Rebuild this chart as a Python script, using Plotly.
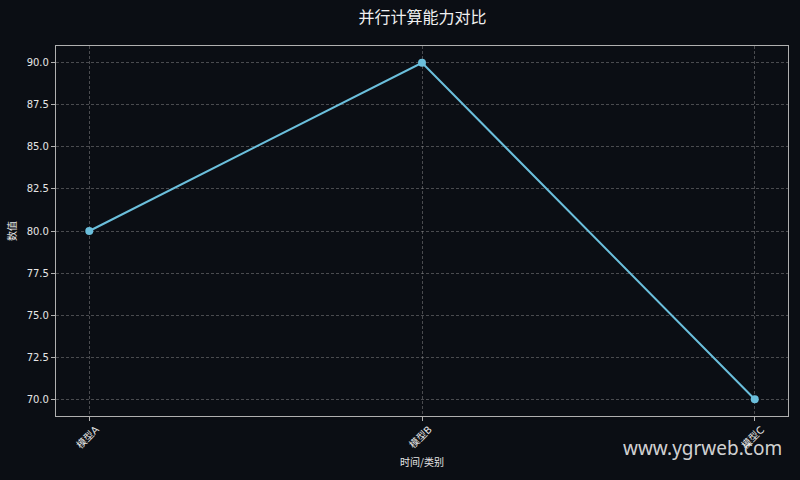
import plotly.graph_objects as go

categories = ["模型A", "模型B", "模型C"]
values = [80, 90, 70]
y_ticks = [70.0, 72.5, 75.0, 77.5, 80.0, 82.5, 85.0, 87.5, 90.0]
y_tick_labels = [f"{v:.1f}" for v in y_ticks]

BG = "#0b0e14"
LINE = "#6bbfdc"
FONT = "Noto Sans CJK SC, DejaVu Sans, sans-serif"
TICKFONT = "DejaVu Sans, Noto Sans CJK SC, sans-serif"
TXT = "#e6e6e6"

xpos = list(range(len(categories)))

fig = go.Figure()
fig.add_trace(go.Scatter(
    x=xpos, y=values, mode="lines+markers",
    line=dict(color=LINE, width=2), marker=dict(color=LINE, size=8),
    showlegend=False,
))

axis_common = dict(
    showline=True, linecolor="#b0b0b0", linewidth=1.2, mirror=True,
    showgrid=True, gridcolor="rgba(150,150,150,0.45)", griddash="3px,2px", gridwidth=0.8,
    ticks="outside", ticklen=4, tickcolor="#b0b0b0", zeroline=False,
    tickfont=dict(family=TICKFONT, size=10, color=TXT),
)

fig.update_layout(
    width=800, height=480,
    paper_bgcolor=BG, plot_bgcolor=BG,
    margin=dict(l=56, r=12, t=46, b=64),
    title=dict(text="并行计算能力对比", x=0.528, xanchor="center", y=0.963, yanchor="middle",
               font=dict(family=FONT, size=16, color="#f0f0f0")),
    xaxis=dict(range=[-0.1, 2.1], tickmode="array", tickvals=xpos,
               ticktext=categories, showticklabels=False,
               title=dict(text="时间/类别", font=dict(family=FONT, size=10, color=TXT), standoff=38),
               **axis_common),
    yaxis=dict(range=[69.0, 91.0], tickmode="array", tickvals=y_ticks, ticktext=y_tick_labels,
               title=dict(text="数值", font=dict(family=FONT, size=10, color=TXT), standoff=8),
               **axis_common),
)

for xi, label in zip(xpos, categories):
    fig.add_annotation(text=label, x=xi, xref="x", y=-0.057, yref="paper",
                       textangle=-45, xanchor="center", yanchor="middle", xshift=-2,
                       showarrow=False, font=dict(family=TICKFONT, size=10, color=TXT))

fig.add_annotation(text="www.ygrweb.com", xref="paper", yref="paper", x=0.995, y=-0.087,
                   xanchor="right", yanchor="middle", showarrow=False,
                   font=dict(family="Noto Sans, Open Sans, sans-serif", size=19, color="rgba(235,235,235,0.9)"))

fig.write_html("out.html", config={"displayModeBar": False})

with open("out.html", "r", encoding="utf-8") as f:
    html = f.read()
html = html.replace("<head>", "<head><style>html,body{margin:0;padding:0;background:%s;overflow:hidden;}</style>" % BG, 1)
with open("out.html", "w", encoding="utf-8") as f:
    f.write(html)
